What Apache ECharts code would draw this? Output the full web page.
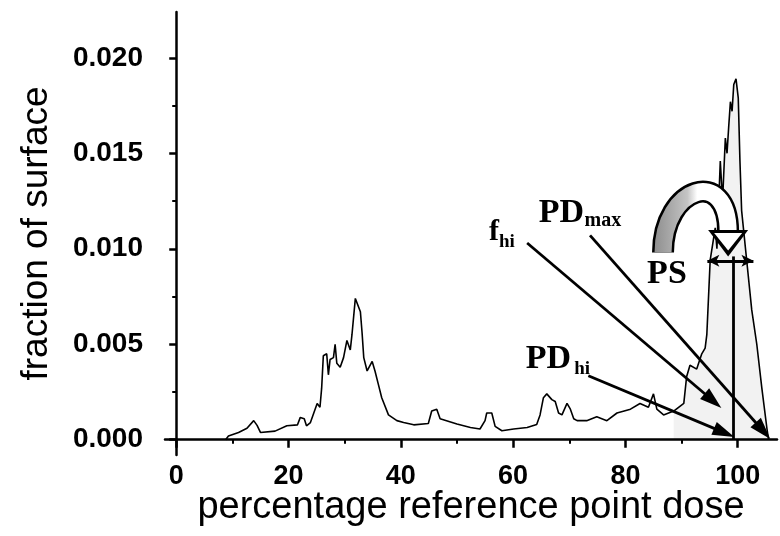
<!DOCTYPE html>
<html><head><meta charset="utf-8">
<script src="https://cdn.jsdelivr.net/npm/echarts@6/dist/echarts.min.js"></script>
<style>html,body{margin:0;padding:0;background:#fff}#c{width:780px;height:536px}</style>
</head><body><div id="c"></div>
<script>
// ---- data ----
const dose = [8.8, 9.3, 11.1, 12.6, 13.8, 14.4, 15.0, 17.6, 19.7, 21.6, 22.1, 22.8, 23.2, 23.9, 24.5, 25.1, 25.6, 25.9,
  26.2, 26.8, 27.1, 27.4, 28.0, 28.3, 28.6, 29.2, 29.8, 30.4, 31.0, 31.3, 31.9, 32.2, 32.8, 33.1, 33.4, 34.0, 34.9, 35.4,
  36.0, 36.6, 37.8, 39.3, 40.5, 42.3, 44.9, 45.5, 46.4, 47.0, 50.0, 52.4, 54.1, 55.0, 55.3, 56.2, 56.8, 58.0, 60.1, 62.5,
  64.2, 64.8, 65.4, 66.0, 66.9, 67.5, 68.1, 68.7, 69.6, 70.2, 70.8, 71.4, 73.1, 74.9, 76.7, 78.5, 80.9, 82.6, 84.1, 85.0,
  85.6, 86.8, 88.6, 90.4, 90.9, 91.5, 92.7, 93.6, 94.2, 94.5, 95.1, 96.0, 96.3, 96.9, 97.3, 97.8, 98.1, 98.4, 98.7, 99.0,
  99.3, 99.7, 100.1, 100.4, 100.7, 101.6, 102.5, 103.4, 104.3, 105.2, 105.5];
const frac = [0, 0.0002, 0.00038, 0.0006, 0.001, 0.00075, 0.00038, 0.00045, 0.00073, 0.00078, 0.00117, 0.0011, 0.00073, 0.0009, 0.0014, 0.0019, 0.0017, 0.0027,
  0.0044, 0.0045, 0.0034, 0.0042, 0.0043, 0.0050, 0.0040, 0.0038, 0.0043, 0.0052, 0.0047, 0.0055, 0.0074, 0.0073, 0.0067, 0.0056, 0.0043, 0.0036, 0.0041, 0.0036,
  0.0029, 0.0022, 0.0013, 0.0010, 0.0009, 0.00078, 0.00085, 0.0015, 0.0016, 0.0011, 0.00082, 0.00064, 0.00056, 0.0010, 0.0014, 0.0014, 0.0007, 0.00047, 0.00056, 0.00064,
  0.0008, 0.0013, 0.0022, 0.0024, 0.0021, 0.0020, 0.0014, 0.0013, 0.0019, 0.0016, 0.0011, 0.0010, 0.0010, 0.0012, 0.0010, 0.0014, 0.0016, 0.0019, 0.0017, 0.0024,
  0.0016, 0.0013, 0.0015, 0.0019, 0.0033, 0.0039, 0.0037, 0.0045, 0.0048, 0.0055, 0.0094, 0.0111, 0.0100, 0.0146, 0.0125, 0.0158, 0.0150, 0.0164, 0.0177, 0.0172,
  0.0186, 0.0189, 0.0179, 0.0146, 0.0120, 0.0094, 0.0068, 0.0050, 0.0027, 0.0006, 0];
const xTickValues = [0, 20, 40, 60, 80, 100];
const xMinorTicks = [10, 30, 50, 70, 90];
const yTickValues = [0, 0.005, 0.010, 0.015, 0.020];
const yMinorTicks = [0.0025, 0.0075, 0.0125, 0.0175];
const highDoseStart = 88.6;
// annotation arrows: [fromDose, fromFrac, toDose, toFrac]
const arrowFhi = [62.5, 0.0103, 95.6, 0.00204];
const arrowPDmax = [73.7, 0.0107, 104.5, 0.00047];
const arrowPDhi = [73.4, 0.00335, 97.6, 0.00037];
const psSpan = [94.6, 102.8, 0.00937];
const refLine = [99.2, 0, 0.0096];
// PS curved arrow: [startDose, startFrac, endDose, endFrac, tipFrac]
const psArc = [86.7, 0.0098, 98.3, 0.01088, 0.0097];
// annotation texts: [text, dose, frac, fontSize]
const labels = [
  ['f', 56.6, 0.01088, 30], ['hi', 58.9, 0.01034, 19],
  ['PD', 68.6, 0.01186, 34], ['max', 76.0, 0.01145, 20],
  ['PD', 66.3, 0.00422, 34], ['hi', 72.3, 0.00370, 19],
  ['PS', 87.4, 0.00867, 34]
];

const chart = echarts.init(document.getElementById('c'), null, {renderer: 'canvas'});
const mainData = dose.map((d, i) => [d, frac[i]]);
const highData = mainData.filter(p => p[0] >= highDoseStart);
const solid = (w) => ({color: '#000', width: w, type: 'solid'});
function arrowLine(a) {
  return [{coord: [a[0], a[1]], symbol: 'none'}, {coord: [a[2], a[3]], symbol: 'triangle', symbolSize: [14, 22]}];
}
const sans = 'Liberation Sans, Arial, sans-serif';
const serif = 'Liberation Serif, Times New Roman, serif';

function renderArc(params, api) {
  const s = api.coord([api.value(0), api.value(1)]);
  const e = api.coord([api.value(2), api.value(3)]);
  const tip = api.coord([api.value(2), api.value(4)]);
  const h = 66;
  const shape = {x1: s[0], y1: s[1], x2: e[0], y2: e[1], cpx1: s[0], cpy1: s[1] - h, cpx2: e[0], cpy2: e[1] - h};
  const grad = {type: 'linear', x: 0, y: 0, x2: 1, y2: 0, colorStops: [
    {offset: 0, color: '#8f8f8f'}, {offset: 0.4, color: '#c4c4c4'}, {offset: 0.52, color: '#fff'}, {offset: 1, color: '#fff'}]};
  return {type: 'group', children: [
    {type: 'bezierCurve', shape: shape, style: {fill: 'none', stroke: '#000', lineWidth: 22, lineCap: 'butt'}},
    {type: 'bezierCurve', shape: shape, style: {fill: 'none', stroke: grad, lineWidth: 17, lineCap: 'butt'}},
    {type: 'polygon', shape: {points: [[e[0] - 20, e[1] - 2], [e[0] + 20, e[1] - 2], [tip[0], tip[1] + 2]]}, style: {fill: '#000'}},
    {type: 'polygon', shape: {points: [[e[0] - 14, e[1] + 1], [e[0] + 14, e[1] + 1], [tip[0], tip[1] - 4]]}, style: {fill: '#fff'}}
  ]};
}

chart.setOption({
  animation: false,
  backgroundColor: '#fff',
  grid: {left: 165, right: 3, top: 12, bottom: 81, containLabel: false, outerBoundsMode: 'none'},
  xAxis: [{
    type: 'value', min: -2, max: 107, position: 'bottom',
    axisLine: {show: true, onZero: true, lineStyle: {color: '#000', width: 2.5}},
    axisTick: {show: true, customValues: xTickValues, length: 8, lineStyle: {color: '#000', width: 2.5}},
    axisLabel: {show: true, customValues: xTickValues, margin: 8, color: '#000', fontFamily: sans, fontWeight: 'bold', fontSize: 27},
    splitLine: {show: false},
    name: 'percentage reference point dose', nameLocation: 'middle', nameGap: 34, nameMoveOverlap: false,
    nameTextStyle: {color: '#000', fontFamily: sans, fontSize: 38}
  }, {
    type: 'value', min: -2, max: 107, position: 'bottom',
    axisLine: {show: false, onZero: true, onZeroAxisIndex: 0},
    axisTick: {show: true, customValues: xMinorTicks, length: 4, lineStyle: {color: '#000', width: 2}},
    axisLabel: {show: false}, splitLine: {show: false}
  }],
  yAxis: [{
    type: 'value', min: -0.0008, max: 0.0224, position: 'left',
    axisLine: {show: true, onZero: true, lineStyle: {color: '#000', width: 2.5}},
    axisTick: {show: true, customValues: yTickValues, length: 7, lineStyle: {color: '#000', width: 2.5}},
    axisLabel: {show: true, customValues: yTickValues, margin: 22, color: '#000', fontFamily: sans, fontWeight: 'bold', fontSize: 28,
      formatter: v => v.toFixed(3)},
    splitLine: {show: false},
    name: 'fraction of surface', nameLocation: 'middle', nameGap: 110, nameMoveOverlap: false,
    nameTextStyle: {color: '#000', fontFamily: sans, fontSize: 37}
  }, {
    type: 'value', min: -0.0008, max: 0.0224, position: 'left',
    axisLine: {show: false, onZero: true, onZeroAxisIndex: 0},
    axisTick: {show: true, customValues: yMinorTicks, length: 4, lineStyle: {color: '#000', width: 2}},
    axisLabel: {show: false}, splitLine: {show: false}
  }],
  series: [
    {
      name: 'high dose region', type: 'line', data: highData, showSymbol: false, silent: true,
      lineStyle: {width: 0}, areaStyle: {color: 'rgba(0,0,0,0.07)'}, z: 1
    },
    {
      name: 'fraction of surface', type: 'line', data: mainData, showSymbol: false, silent: true,
      lineStyle: {color: '#000', width: 1.6}, z: 3
    },
    {
      name: 'annotations', type: 'line', data: [], silent: true, z: 4,
      markLine: {
        silent: true, animation: false, label: {show: false}, lineStyle: solid(2.8),
        data: [
          arrowLine(arrowFhi), arrowLine(arrowPDmax), arrowLine(arrowPDhi),
          [{coord: [psSpan[0], psSpan[2]], symbol: 'arrow', symbolSize: [9, 12]}, {coord: [psSpan[1], psSpan[2]], symbol: 'arrow', symbolSize: [9, 12]}],
          [{coord: [refLine[0], refLine[1]], symbol: 'none'}, {coord: [refLine[0], refLine[2]], symbol: 'none'}]
        ]
      },
      markPoint: {
        silent: true, animation: false, symbol: 'rect', symbolSize: 1, itemStyle: {color: 'rgba(0,0,0,0)'},
        data: labels.map(l => ({coord: [l[1], l[2]], value: l[0],
          label: {show: true, position: 'inside', formatter: l[0], color: '#000', fontFamily: serif, fontWeight: 'bold', fontSize: l[3]}}))
      }
    },
    {
      name: 'PS arrow', type: 'custom', coordinateSystem: 'cartesian2d', silent: true, z: 6,
      encode: {x: [0, 2], y: [1, 3, 4]},
      data: [psArc],
      renderItem: renderArc
    }
  ]
});
</script>
</body></html>
